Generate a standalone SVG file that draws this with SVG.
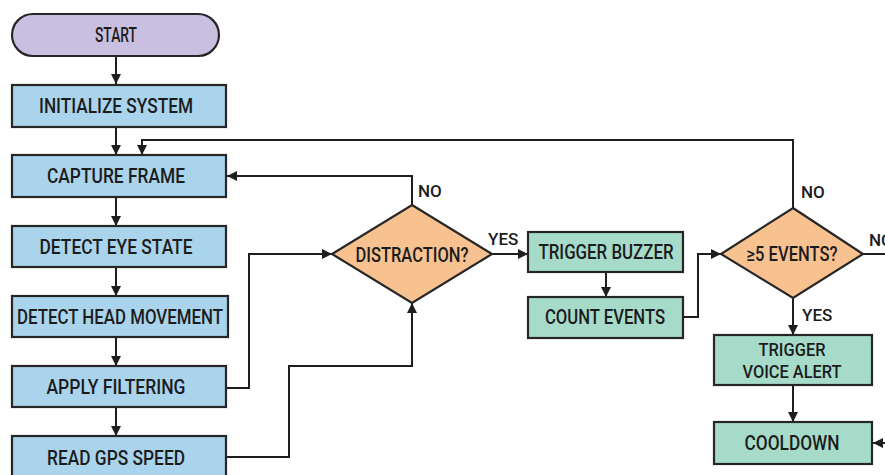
<svg xmlns="http://www.w3.org/2000/svg" width="885" height="475" viewBox="0 0 885 475">
  <defs>
    <marker id="arrow" viewBox="0 0 10 10" refX="10" refY="5" markerWidth="10" markerHeight="10" markerUnits="userSpaceOnUse" orient="auto">
      <path d="M0,0 L10,5 L0,10 Z" fill="#1e1e1e"/>
    </marker>
    <style>
      .box { stroke: #262626; stroke-width: 2.2; }
      .proc { fill: #a9d4ec; }
      .act { fill: #a6dbc9; }
      .dec { fill: #f7c190; }
      .term { fill: #c9bfe1; }
      .lbl { font-family: Roboto, "Liberation Sans", sans-serif; font-weight: 500; font-size: 20px; fill: #1c1c1c; text-anchor: middle; }
      .lbl2 { font-size: 18px; }
      .tag { font-family: Roboto, "Liberation Sans", sans-serif; font-weight: 500; font-size: 17px; fill: #1c1c1c; }
      .conn { fill: none; stroke: #1e1e1e; stroke-width: 2; }
    </style>
  </defs>

  <rect x="0" y="0" width="885" height="475" fill="#ffffff"/>

  <!-- connectors and their branch labels -->
  <g id="connectors">
    <path class="conn" d="M116,56 V84" marker-end="url(#arrow)"/>
    <path class="conn" d="M116,127 V155" marker-end="url(#arrow)"/>
    <path class="conn" d="M793,208 V140 H142 V155" marker-end="url(#arrow)"/>
    <path class="conn" d="M116,197 V226" marker-end="url(#arrow)"/>
    <path class="conn" d="M116,267 V296" marker-end="url(#arrow)"/>
    <path class="conn" d="M116,337 V366" marker-end="url(#arrow)"/>
    <path class="conn" d="M116,407 V436" marker-end="url(#arrow)"/>
    <path class="conn" d="M227,388 H249 V254 H332" marker-end="url(#arrow)"/>
    <path class="conn" d="M227,457 H289 V366 H412 V303" marker-end="url(#arrow)"/>
    <path class="conn" d="M412,205 V176 H227" marker-end="url(#arrow)"/>
    <path class="conn" d="M492,254 H528" marker-end="url(#arrow)"/>
    <path class="conn" d="M606,272 V297" marker-end="url(#arrow)"/>
    <path class="conn" d="M683,317 H698 V254 H721" marker-end="url(#arrow)"/>
    <path class="conn" d="M863,254 H885"/>
    <path class="conn" d="M793,298 V335" marker-end="url(#arrow)"/>
    <path class="conn" d="M793,385 V422" marker-end="url(#arrow)"/>
    <path class="conn" d="M885,443 H873" marker-end="url(#arrow)"/>
    <text class="tag" x="418" y="197">NO</text>
    <text class="tag" x="488" y="245">YES</text>
    <text class="tag" x="801" y="198">NO</text>
    <text class="tag" x="869" y="246">NO</text>
    <text class="tag" x="802" y="321">YES</text>
  </g>

  <g id="start">
    <rect class="box term" x="12" y="14" width="207" height="42" rx="21"/>
    <text class="lbl" x="116" y="42" textLength="42" lengthAdjust="spacingAndGlyphs">START</text>
  </g>
  <g id="initialize">
    <rect class="box proc" x="12" y="85" width="214" height="42"/>
    <text class="lbl" x="116" y="113" textLength="154" lengthAdjust="spacingAndGlyphs">INITIALIZE SYSTEM</text>
  </g>
  <g id="capture">
    <rect class="box proc" x="12" y="155" width="214" height="42"/>
    <text class="lbl" x="116" y="183" textLength="138" lengthAdjust="spacingAndGlyphs">CAPTURE FRAME</text>
  </g>
  <g id="eye">
    <rect class="box proc" x="12" y="226" width="214" height="41"/>
    <text class="lbl" x="116" y="254" textLength="153" lengthAdjust="spacingAndGlyphs">DETECT EYE STATE</text>
  </g>
  <g id="head">
    <rect class="box proc" x="12" y="296" width="216" height="41"/>
    <text class="lbl" x="120" y="324" textLength="206" lengthAdjust="spacingAndGlyphs">DETECT HEAD MOVEMENT</text>
  </g>
  <g id="filter">
    <rect class="box proc" x="12" y="366" width="214" height="41"/>
    <text class="lbl" x="116" y="394" textLength="139" lengthAdjust="spacingAndGlyphs">APPLY FILTERING</text>
  </g>
  <g id="gps">
    <rect class="box proc" x="12" y="436" width="214" height="44"/>
    <text class="lbl" x="116" y="465" textLength="138" lengthAdjust="spacingAndGlyphs">READ GPS SPEED</text>
  </g>
  <g id="distraction">
    <polygon class="box dec" points="412,205 492,254 412,303 332,254"/>
    <text class="lbl" x="412" y="262" textLength="113" lengthAdjust="spacingAndGlyphs">DISTRACTION?</text>
  </g>
  <g id="buzzer">
    <rect class="box act" x="528" y="232" width="155" height="40"/>
    <text class="lbl" x="606" y="259" textLength="135" lengthAdjust="spacingAndGlyphs">TRIGGER BUZZER</text>
  </g>
  <g id="count">
    <rect class="box act" x="528" y="297" width="155" height="41"/>
    <text class="lbl" x="605" y="324" textLength="120" lengthAdjust="spacingAndGlyphs">COUNT EVENTS</text>
  </g>
  <g id="events">
    <polygon class="box dec" points="793,208 863,254 793,298 721,254"/>
    <text class="lbl" x="792" y="261" textLength="91" lengthAdjust="spacingAndGlyphs">≥5 EVENTS?</text>
  </g>
  <g id="voice">
    <rect class="box act" x="714" y="335" width="158" height="50"/>
    <text class="lbl lbl2" x="792" y="356" textLength="67" lengthAdjust="spacingAndGlyphs">TRIGGER</text>
    <text class="lbl lbl2" x="792" y="378" textLength="99" lengthAdjust="spacingAndGlyphs">VOICE ALERT</text>
  </g>
  <g id="cooldown">
    <rect class="box act" x="714" y="422" width="158" height="42"/>
    <text class="lbl" x="792" y="450" textLength="95" lengthAdjust="spacingAndGlyphs">COOLDOWN</text>
  </g>
</svg>
